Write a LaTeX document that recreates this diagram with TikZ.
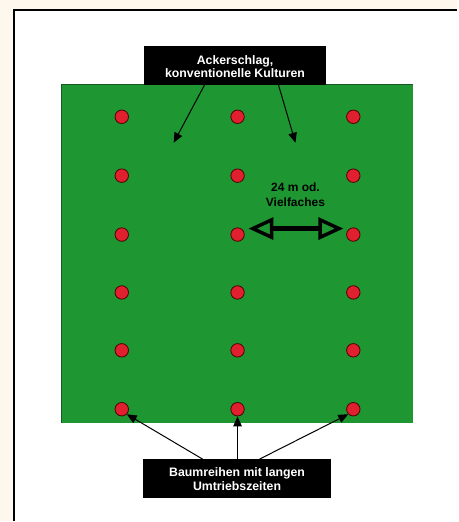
\documentclass[tikz,border=0pt]{standalone}
\usepackage{fontspec}
\setmainfont{Liberation Sans}
\usetikzlibrary{arrows.meta}
\definecolor{cream}{HTML}{FDF7EE}
\definecolor{field}{HTML}{1E9632}
\definecolor{fieldedge}{HTML}{145A22}
\definecolor{tree}{HTML}{E0202E}
\tikzset{
  treedot/.style={circle,fill=tree,draw=black!70!red,line width=0.8pt,minimum size=13.5pt,inner sep=0pt},
  labelbox/.style={text=white,align=center,inner sep=0pt},
  pointer/.style={-{Triangle[length=10pt,width=8.5pt]},line width=1pt},
}
\begin{document}
\begin{tikzpicture}[x=1pt,y=-1pt]
\fill[cream] (0,0) rectangle (458,522);
\fill[white] (14,10) rectangle (458,522);
\draw[line width=2pt] (14,522) -- (14,10) -- (458,10);
\useasboundingbox (0,0) rectangle (458,522);
\fill[field] (62,85) rectangle (414,424);
\draw[fieldedge,line width=1pt] (62,424) -- (62,85) -- (414,85);
% trees
\foreach \c/\x in {1/122,2/238,3/354}{
  \foreach \r/\y in {1/117,2/176,3/235,4/293,5/351,6/410}{
    \node[treedot] (t\c\r) at (\x,\y) {};
  }
}
% top label
\fill[black] (144,46) rectangle (327,85);
\node[labelbox,font=\bfseries\fontsize{12.3}{11.5}\selectfont] (top) at (235.5,66.5) {Ackerschlag,\\konventionelle Kulturen};
\coordinate (ta) at (205,85);
\coordinate (tb) at (279,85);
\coordinate (fa) at (174,143);
\coordinate (fb) at (296,143);
\draw[pointer] (ta) -- (fa);
\draw[pointer] (tb) -- (fb);
% bottom label
\fill[black] (143,460) rectangle (332,499);
\node[labelbox,font=\bfseries\fontsize{12.3}{14.5}\selectfont] (bot) at (237.5,480) {Baumreihen mit langen\\Umtriebszeiten};
\coordinate (ba) at (203,460);
\coordinate (bb) at (238,460);
\coordinate (bc) at (260,460);
\draw[pointer] (ba) -- (t16.south east);
\draw[pointer] (bb) -- (t26.south);
\draw[pointer] (bc) -- (t36.south west);
% distance arrow
\node[font=\bfseries\fontsize{12}{15}\selectfont,align=center] (dist) at (296,195) {24 m od.\\Vielfaches};
\coordinate (da) at (249,229);
\coordinate (db) at (344,229);
\draw[line width=5pt,{Triangle[open,length=25pt,width=22pt,line width=3.5pt]}-{Triangle[open,length=25pt,width=22pt,line width=3.5pt]},fill=field] (da) -- (db);
\end{tikzpicture}
\end{document}
